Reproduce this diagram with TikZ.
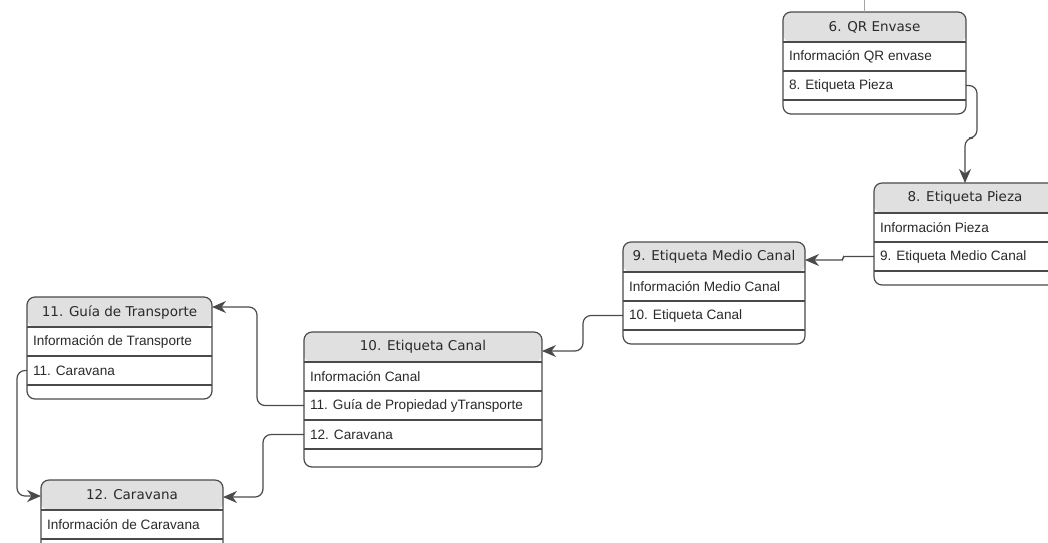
\documentclass[tikz,border=0pt]{standalone}
\usepackage{fontspec}
\usetikzlibrary{arrows.meta,calc}
\newfontfamily\hdrfont{DejaVu Sans}
\newfontfamily\rowfont{Liberation Sans}
\definecolor{linec}{HTML}{4A4A4A}
\definecolor{headc}{HTML}{E0E0E0}
\definecolor{txtc}{HTML}{2A2A2A}

\tikzset{
  tbl/.style={draw=linec, line width=1.2pt, rounded corners=8pt, inner sep=0pt,
    outer sep=0pt, anchor=north west, fill=white,
    path picture={\fill[headc] (path picture bounding box.north west) rectangle
      ([yshift=-30pt]path picture bounding box.north east);}},
  hdr/.style={anchor=north, inner sep=0pt, outer sep=0pt, minimum height=30pt,
    font=\hdrfont\fontsize{13.5}{16}\selectfont, text=txtc},
  rowc/.style={anchor=north west, inner xsep=6pt, inner ysep=0pt, outer sep=0pt,
    minimum height=29pt, font=\rowfont\fontsize{13.6}{16}\selectfont,
    text=txtc, align=left},
  sepline/.style={draw=linec, line width=1.2pt},
  conn/.style={draw=linec, line width=1.2pt, rounded corners=8pt,
    -{Stealth[length=14pt,width=12pt,inset=4.5pt]}},
}

% table outline with a shaded title band: name, left, top, width, height, title
\newcommand\tbox[6]{%
  \node[tbl, minimum width=#4pt, minimum height=#5pt] (#1) at (#2,#3) {};
  \node[hdr, minimum width=#4pt] (#1h) at (#1.north) {#6};
}
% one field row below another node: table, row name, node above, text
\newcommand\trow[4]{%
  \node[rowc] (#2) at (#3.south west) {#4};
  \draw[sepline] (#2.north west) -- (#2.north west -| #1.east);
}
% closing line under the last row: table, last row
\newcommand\tend[2]{%
  \draw[sepline] (#2.south west) -- (#2.south west -| #1.east);
}

\begin{document}
\begin{tikzpicture}[x=1pt,y=-1pt]
\clip (0,0) rectangle (1048,542);
\fill[white] (0,0) rectangle (1048,542);

% 6. QR Envase
\tbox{b6}{783}{12}{183}{102}{6. QR Envase}
\trow{b6}{b6r1}{b6h}{Información QR envase}
\trow{b6}{b6r2}{b6r1}{8. Etiqueta Pieza}
\tend{b6}{b6r2}

% 8. Etiqueta Pieza
\tbox{b8}{874}{183}{182}{102}{8. Etiqueta Pieza}
\trow{b8}{b8r1}{b8h}{Información Pieza}
\trow{b8}{b8r2}{b8r1}{9. Etiqueta Medio Canal}
\tend{b8}{b8r2}

% 9. Etiqueta Medio Canal
\tbox{b9}{623}{242}{182}{102}{9. Etiqueta Medio Canal}
\trow{b9}{b9r1}{b9h}{Información Medio Canal}
\trow{b9}{b9r2}{b9r1}{10. Etiqueta Canal}
\tend{b9}{b9r2}

% 10. Etiqueta Canal
\tbox{b10}{304}{332}{238}{135}{10. Etiqueta Canal}
\trow{b10}{b10r1}{b10h}{Información Canal}
\trow{b10}{b10r2}{b10r1}{11. Guía de Propiedad yTransporte}
\trow{b10}{b10r3}{b10r2}{12. Caravana}
\tend{b10}{b10r3}

% 11. Guía de Transporte
\tbox{b11}{27}{297}{185}{102}{11. Guía de Transporte}
\trow{b11}{b11r1}{b11h}{Información de Transporte}
\trow{b11}{b11r2}{b11r1}{11. Caravana}
\tend{b11}{b11r2}

% 12. Caravana
\tbox{b12}{41}{480}{182}{73}{12. Caravana}
\trow{b12}{b12r1}{b12h}{Información de Caravana}
\tend{b12}{b12r1}

% incoming line above the QR table
\coordinate (stub) at (864,0);
\draw[draw=gray!70, line width=0.6pt] (stub) -- (stub |- b6.north);

% references between tables
\draw[conn] (b6r2.west -| b6.east) -- ++(11,0) |- ($(b8.north)+(0,-45)$) -- (b8.north);
\draw[conn, rounded corners=2pt] (b8r2.west) -- ++(-31,0) |- ([yshift=-3pt]b9h.east);
\draw[conn] (b9r2.west) -- ++(-40,0) |- ([yshift=-4pt]b10h.east);
\draw[conn] (b10r2.west) -- ++(-47,0) |- ([yshift=5pt]b11h.east);
\draw[conn] (b10r3.west) -- ++(-41,0) |- ([yshift=-2pt]b12h.east);
\draw[conn] (b11r2.west) -- ++(-10,0) |- ([yshift=-1pt]b12h.west);
\end{tikzpicture}
\end{document}
